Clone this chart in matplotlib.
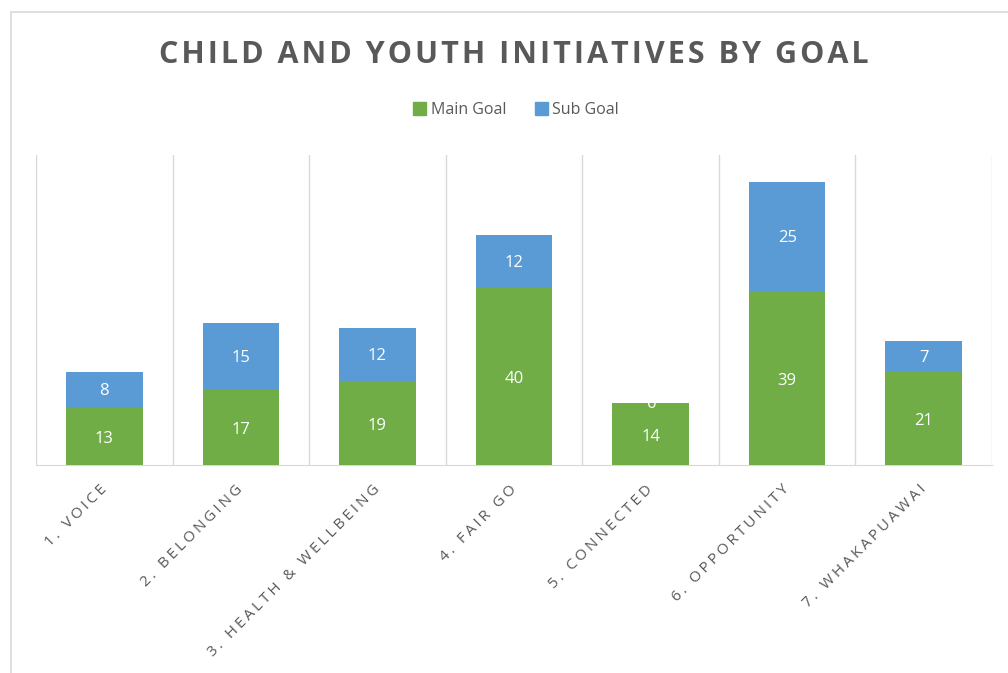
import matplotlib
matplotlib.use("Agg")
import matplotlib.pyplot as plt
from matplotlib.patches import Rectangle, Patch
import numpy as np

categories = ["1. VOICE", "2. BELONGING", "3. HEALTH & WELLBEING", "4. FAIR GO",
              "5. CONNECTED", "6. OPPORTUNITY", "7. WHAKAPUAWAI"]
main_goal = [13, 17, 19, 40, 14, 39, 21]
sub_goal = [8, 15, 12, 12, 0, 25, 7]

green = "#70AD47"
blue = "#5B9BD5"
grey_text = "#595959"
grid_col = "#D9D9D9"

plt.rcParams['font.family'] = ['Open Sans', 'DejaVu Sans']


def spaced(s, gap="\u200a"):
    # fake letter spacing, like the office chart
    return gap.join(s)


fig = plt.figure(figsize=(10.08, 6.73), dpi=100)
ax = fig.add_axes([36 / 1008, 1 - 465 / 673, (992 - 36) / 1008, 310 / 673])

x = np.arange(len(categories))
w = 0.56
ax.bar(x, main_goal, w, color=green, label="Main Goal", zorder=3)
ax.bar(x, sub_goal, w, bottom=main_goal, color=blue, label="Sub Goal", zorder=3)

for i in range(len(categories)):
    ax.text(x[i], main_goal[i] / 2 - 0.6, str(main_goal[i]), ha="center", va="center",
            color="white", fontsize=12, zorder=4)
    ax.text(x[i], main_goal[i] + sub_goal[i] / 2 - 0.3, str(sub_goal[i]), ha="center",
            va="center", color="white", fontsize=12, zorder=4)

ax.set_xlim(-0.5, len(categories) - 0.5)
ax.set_ylim(0, 70)
ax.set_yticks([])
for b in np.arange(-0.5, len(categories), 1.0):
    ax.axvline(b, color=grid_col, lw=1, zorder=1)
for s in ["top", "left", "right"]:
    ax.spines[s].set_visible(False)
ax.spines["bottom"].set_color(grid_col)
ax.set_xticks(x)
ax.set_xticklabels([spaced(c, "\u200a\u200a") for c in categories], rotation=45,
                   ha="right", va="center", rotation_mode="anchor",
                   color=grey_text, fontsize=11)
ax.tick_params(axis="x", length=0, pad=16)

fig.text(514 / 1008, 1 - 55 / 673, spaced("CHILD AND YOUTH INITIATIVES BY GOAL"),
         ha="center", va="center", fontsize=22, fontweight="bold", color=grey_text)

handles = [Patch(color=green), Patch(color=blue)]
fig.legend(handles, ["Main Goal", "Sub Goal"], loc="center",
           bbox_to_anchor=(516 / 1008, 1 - 110 / 673), ncol=2, frameon=False,
           fontsize=11.5, handlelength=0.8, handleheight=0.8, handletextpad=0.3,
           columnspacing=1.8, labelcolor=grey_text)

# outer chart border
fig.add_artist(Rectangle((11 / 1008, -0.2), 1.5, (673 - 12) / 673 + 0.2,
                         transform=fig.transFigure, fill=False, edgecolor=grid_col, lw=1.2))

fig.savefig("out.png", dpi=100)
